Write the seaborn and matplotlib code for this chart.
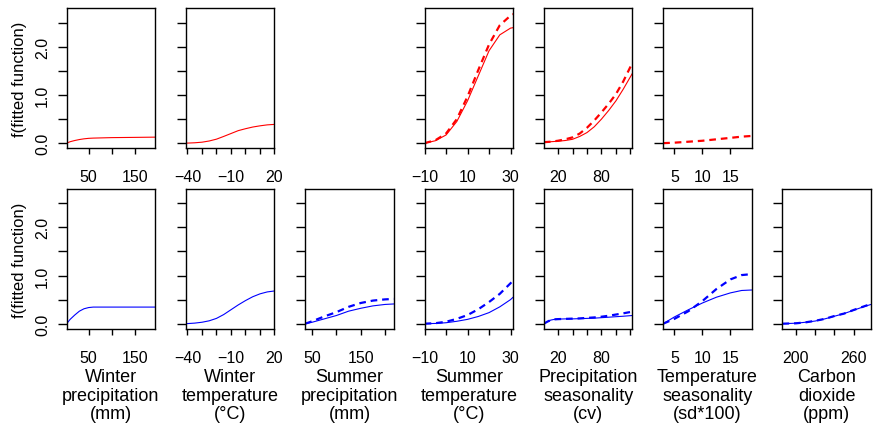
import numpy as np
import seaborn as sns
import matplotlib.pyplot as plt

# response curves (top row = red model, bottom row = blue model)
wprec_x = [2.6, 10, 20, 30, 40, 50, 60, 80, 100, 150, 194]
wprec_top = [0, 0.03, 0.055, 0.075, 0.09, 0.1, 0.105, 0.11, 0.115, 0.12, 0.125]
wprec_bot = [0, 0.09, 0.18, 0.26, 0.31, 0.335, 0.345, 0.345, 0.345, 0.345, 0.345]

wtemp_x = [-41, -35, -30, -25, -20, -15, -10, -5, 0, 5, 10, 15, 20]
wtemp_top = [0, 0.008, 0.02, 0.045, 0.083, 0.14, 0.2, 0.26, 0.30, 0.335, 0.36, 0.38, 0.39]
wtemp_bot = [0, 0.012, 0.03, 0.06, 0.11, 0.19, 0.29, 0.39, 0.48, 0.56, 0.62, 0.66, 0.68]

sprec_x = [36, 50, 75, 100, 125, 150, 175, 200, 218]
sprec_bot = [0, 0.03, 0.1, 0.17, 0.26, 0.32, 0.37, 0.4, 0.41]
sprec_bot_dash = [0, 0.05, 0.15, 0.24, 0.35, 0.43, 0.48, 0.505, 0.515]

stemp_x = [-10, -5, 0, 5, 10, 15, 20, 25, 30, 31.2]
stemp_top = [0, 0.05, 0.17, 0.45, 0.88, 1.4, 1.92, 2.25, 2.39, 2.4]
stemp_top_dash = [0, 0.06, 0.2, 0.5, 0.97, 1.52, 2.05, 2.45, 2.65, 2.68]
stemp_bot = [0, 0.005, 0.02, 0.05, 0.09, 0.15, 0.23, 0.35, 0.5, 0.55]
stemp_bot_dash = [0, 0.01, 0.04, 0.1, 0.18, 0.3, 0.45, 0.62, 0.84, 0.9]

pseas_x = [0.5, 5, 10, 15, 20, 30, 40, 50, 60, 70, 80, 90, 100, 110, 122.7]
pseas_top = [0.02, 0.025, 0.03, 0.035, 0.04, 0.055, 0.08, 0.14, 0.22, 0.34, 0.5, 0.68, 0.88, 1.12, 1.45]
pseas_top_dash = [0.02, 0.025, 0.03, 0.04, 0.05, 0.08, 0.12, 0.2, 0.32, 0.47, 0.64, 0.82, 1.02, 1.28, 1.67]
pseas_bot = [0, 0.04, 0.075, 0.09, 0.095, 0.1, 0.1, 0.105, 0.11, 0.115, 0.125, 0.135, 0.145, 0.155, 0.17]
pseas_bot_dash = [0, 0.04, 0.075, 0.09, 0.095, 0.1, 0.105, 0.11, 0.12, 0.13, 0.145, 0.165, 0.19, 0.215, 0.25]

tseas_x = [3, 5, 7.5, 10, 12.5, 15, 17, 18.8]
tseas_top_dash = [0, 0.01, 0.03, 0.05, 0.08, 0.11, 0.135, 0.15]
tseas_bot = [0, 0.14, 0.29, 0.43, 0.55, 0.64, 0.69, 0.70]
tseas_bot_dash = [0, 0.1, 0.26, 0.47, 0.72, 0.92, 1.01, 1.03]

co2_x = [186, 200, 210, 220, 230, 240, 250, 260, 270, 278]
co2_bot = [0, 0.01, 0.03, 0.055, 0.1, 0.155, 0.21, 0.28, 0.35, 0.4]
co2_bot_dash = [0, 0.008, 0.028, 0.06, 0.1, 0.16, 0.21, 0.285, 0.355, 0.41]

xlabels = ["Winter\nprecipitation\n(mm)", "Winter\ntemperature\n(°C)",
           "Summer\nprecipitation\n(mm)", "Summer\ntemperature\n(°C)",
           "Precipitation\nseasonality\n(cv)", "Temperature\nseasonality\n(sd*100)",
           "Carbon\ndioxide\n(ppm)"]
xlims = [(2.6, 194), (-41, 20), (36, 218), (-10, 31.2), (0.5, 122.7), (3.0, 18.8), (186, 278)]
xticks = [[50, 100, 150], [-40, -30, -20, -10, 0, 10, 20], [50, 100, 150, 200],
          [-10, 0, 10, 20, 30], [20, 40, 60, 80, 100, 120], [5, 10, 15], [200, 220, 240, 260]]
xticklabels = [["50", "", "150"], ["\u221240", "", "", "\u221210", "", "", "20"],
               ["50", "", "150", ""], ["\u221210", "", "10", "", "30"],
               ["20", "", "", "80", "", ""], ["5", "10", "15"], ["200", "", "", "260"]]
yticks = [0, 0.5, 1.0, 1.5, 2.0, 2.5]
yticklabels = ["0.0", "", "1.0", "", "2.0", ""]

# (x, solid, dashed) per panel; None = nothing drawn
top = [(wprec_x, wprec_top, None), (wtemp_x, wtemp_top, None), None,
       (stemp_x, stemp_top, stemp_top_dash), (pseas_x, pseas_top, pseas_top_dash),
       (tseas_x, None, tseas_top_dash), None]
bot = [(wprec_x, wprec_bot, None), (wtemp_x, wtemp_bot, None),
       (sprec_x, sprec_bot, sprec_bot_dash), (stemp_x, stemp_bot, stemp_bot_dash),
       (pseas_x, pseas_bot, pseas_bot_dash), (tseas_x, tseas_bot, tseas_bot_dash),
       (co2_x, co2_bot, co2_bot_dash)]

sns.set_style("ticks")
plt.rcParams["font.family"] = ["Liberation Sans", "DejaVu Sans"]
plt.rcParams["text.color"] = "black"
plt.rcParams["axes.labelcolor"] = "black"
plt.rcParams["xtick.labelcolor"] = "black"
plt.rcParams["ytick.labelcolor"] = "black"

fig, axes = plt.subplots(2, 7, figsize=(8.73, 4.27), dpi=100)
fig.subplots_adjust(left=0.0764, right=0.9977, top=0.978, bottom=0.2272,
                    wspace=0.348, hspace=0.289)

for r, (rows, color) in enumerate([(top, "#ff0000"), (bot, "#0000ff")]):
    for c, panel in enumerate(rows):
        ax = axes[r, c]
        if panel is None:
            ax.axis("off")
            continue
        x, solid, dashed = panel
        if solid is not None:
            sns.lineplot(x=np.array(x), y=np.array(solid), ax=ax, color=color,
                         lw=0.8, legend=False)
        if dashed is not None:
            sns.lineplot(x=np.array(x), y=np.array(dashed), ax=ax, color=color,
                         lw=1.6, linestyle=(0, (3, 2.2)), legend=False)
        ax.set_xlim(*xlims[c])
        ax.set_ylim(-0.11, 2.80)
        ax.set_xticks(xticks[c])
        ax.set_xticklabels(xticklabels[c])
        ax.set_yticks(yticks)
        if c == 0:
            ax.set_yticklabels(yticklabels, rotation=90, va="center")
            ax.set_ylabel("f(fitted function)", fontsize=12, labelpad=6)
        else:
            ax.set_yticklabels([])
            ax.set_ylabel("")
        if r == 1:
            ax.set_xlabel(xlabels[c], fontsize=13, linespacing=1.12, labelpad=2.5)
        else:
            ax.set_xlabel("")
        for s in ax.spines.values():
            s.set_visible(True)
            s.set_linewidth(1.0)
            s.set_color("black")
        ax.tick_params(axis="both", direction="out", width=1,
                       labelsize=11.5, color="black")
        ax.tick_params(axis="x", length=4, pad=11)
        ax.tick_params(axis="y", length=6.5, pad=5.5)

fig.savefig("out.png", dpi=100)
